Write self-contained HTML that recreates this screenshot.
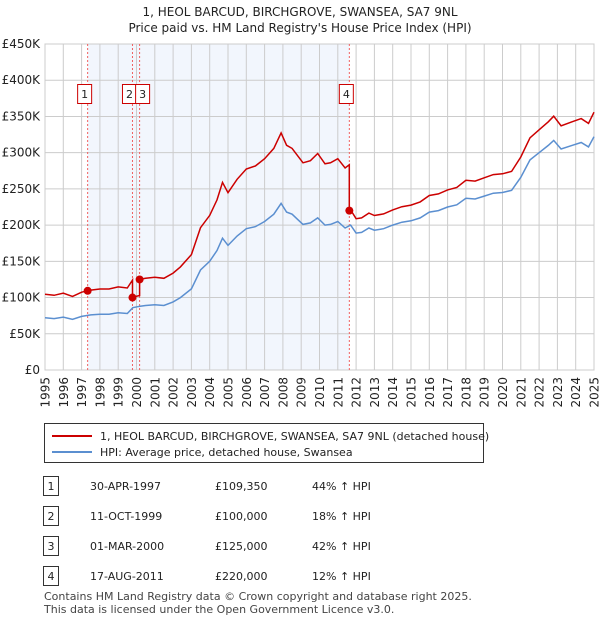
<!DOCTYPE html>
<html><head><meta charset="utf-8"><style>
body{margin:0;background:#fff;font-family:"Liberation Sans","DejaVu Sans",sans-serif;}
svg text{font-family:"DejaVu Sans","Liberation Sans",sans-serif;}
</style></head><body>
<svg id="c" width="600" height="620" viewBox="0 0 600 620" xmlns="http://www.w3.org/2000/svg">
<text x="300" y="16" text-anchor="middle" font-size="12" fill="#222">1, HEOL BARCUD, BIRCHGROVE, SWANSEA, SA7 9NL</text>
<text x="300" y="32" text-anchor="middle" font-size="12" fill="#222">Price paid vs. HM Land Registry's House Price Index (HPI)</text>
<g id="plot"></g>
<rect x="44.5" y="423.5" width="439" height="39" fill="#fff" stroke="#333"/>
<line x1="52" y1="436" x2="92" y2="436" stroke="#cc0000" stroke-width="2"/>
<text x="100" y="440" font-size="11" fill="#222">1, HEOL BARCUD, BIRCHGROVE, SWANSEA, SA7 9NL (detached house)</text>
<line x1="52" y1="452" x2="92" y2="452" stroke="#5b8fd0" stroke-width="2"/>
<text x="100" y="456" font-size="11" fill="#222">HPI: Average price, detached house, Swansea</text>
<g id="tbl"></g>
<text x="44" y="600" font-size="11" fill="#444">Contains HM Land Registry data © Crown copyright and database right 2025.</text>
<text x="44" y="613" font-size="11" fill="#444">This data is licensed under the Open Government Licence v3.0.</text>
</svg>
<script>
const hpiYears=[1995,1995.5,1996,1996.5,1997,1997.5,1998,1998.5,1999,1999.5,1999.8,2000.2,2000.5,2001,2001.5,2002,2002.4,2003,2003.5,2004,2004.4,2004.7,2005,2005.5,2006,2006.5,2007,2007.5,2007.9,2008.2,2008.5,2008.8,2009.1,2009.5,2009.9,2010.3,2010.6,2011,2011.4,2011.7,2012,2012.3,2012.7,2013,2013.5,2014,2014.5,2015,2015.5,2016,2016.5,2017,2017.5,2018,2018.5,2019,2019.5,2020,2020.5,2021,2021.5,2022,2022.5,2022.8,2023.2,2023.8,2024.3,2024.7,2025];
const hpiValues=[72,71,73,70,74,76,77,77,79,78,86,88,89,90,89,94,100,112,138,150,165,182,172,185,195,198,205,215,230,218,215,208,201,203,210,200,201,205,196,200,189,190,196,193,195,200,204,206,210,218,220,225,228,237,236,240,244,245,248,266,290,300,310,317,305,310,314,308,322];
const saleYears=[1997.33,1999.78,2000.17,2011.63];
const salePrices=[109350,100000,125000,220000];
const saleLabels=["1","2","3","4"];
const saleDates=["30-APR-1997","11-OCT-1999","01-MAR-2000","17-AUG-2011"];
const salePriceText=["£109,350","£100,000","£125,000","£220,000"];
const saleHpiText=["44% ↑ HPI","18% ↑ HPI","42% ↑ HPI","12% ↑ HPI"];
const yTicks=[0,50,100,150,200,250,300,350,400,450];
const xTicks=[1995,1996,1997,1998,1999,2000,2001,2002,2003,2004,2005,2006,2007,2008,2009,2010,2011,2012,2013,2014,2015,2016,2017,2018,2019,2020,2021,2022,2023,2024,2025];

const X0=45,X1=594,Y0=370,Y1=44;
const xs=y=>X0+(y-1995)/30*(X1-X0);
const ys=v=>Y0-v/450*(Y0-Y1);
const NS="http://www.w3.org/2000/svg";
const g=document.getElementById('plot');
function mk(t,a,p){const e=document.createElementNS(NS,t);for(const k in a)e.setAttribute(k,a[k]);(p||g).appendChild(e);return e;}
function hpiAt(y){for(let i=1;i<hpiYears.length;i++){if(y<=hpiYears[i]){const t=(y-hpiYears[i-1])/(hpiYears[i]-hpiYears[i-1]);return hpiValues[i-1]+t*(hpiValues[i]-hpiValues[i-1]);}}return hpiValues[hpiValues.length-1];}

let e=mk('rect',{x:X0,y:Y1,width:X1-X0,height:Y0-Y1,fill:'#fff'});

e=mk('rect',{x:xs(saleYears[0]),y:Y1,width:xs(saleYears[3])-xs(saleYears[0]),height:Y0-Y1,fill:'#f2f6fd'});

xTicks.forEach(t=>{
 let l=mk('line',{x1:xs(t),x2:xs(t),y1:Y1,y2:Y0,stroke:'#ccc','stroke-width':1});
 
 const px=xs(t)+4.5;
 let tx=mk('text',{x:px,y:377,'text-anchor':'end','font-size':12,fill:'#222',transform:'rotate(-90 '+px+' 377)'});tx.textContent=t;
 
});
yTicks.forEach(t=>{
 let l=mk('line',{x1:X0,x2:X1,y1:ys(t),y2:ys(t),stroke:'#ccc','stroke-width':1});
 
 let tx=mk('text',{x:40,y:ys(t)+4,'text-anchor':'end','font-size':12,fill:'#222'});tx.textContent=t===0?'£0':'£'+t+'K';
 
});
e=mk('rect',{x:X0,y:Y1,width:X1-X0,height:Y0-Y1,fill:'none',stroke:'#ccc'});


saleYears.forEach((y,i)=>{
 let l=mk('line',{x1:xs(y),x2:xs(y),y1:Y1,y2:Y0,stroke:'#f06060','stroke-width':1,'stroke-dasharray':'2,2'});
 
});
let d=hpiYears.map((y,i)=>(i?'L':'M')+xs(y).toFixed(1)+','+ys(hpiValues[i]).toFixed(1)).join('');
e=mk('path',{d:d,fill:'none',stroke:'#5b8fd0','stroke-width':1.5});

const pts=[];
const segStart=[1995,saleYears[1],saleYears[2],saleYears[3]];
const segEnd=[saleYears[1],saleYears[2],saleYears[3],2025];
for(let s=0;s<4;s++){
 const r=salePrices[s]/1000/hpiAt(saleYears[s]);
 const ys_=[segStart[s],...hpiYears.filter(y=>y>segStart[s]&&y<segEnd[s]),segEnd[s]];
 ys_.forEach((y,k)=>{ if(k===ys_.length-1&&s<3) return; pts.push([y,hpiAt(y)*r]); });
 if(s<3) pts.push([segEnd[s]-0.001,hpiAt(segEnd[s])*r]);
}
d=pts.map((p,i)=>(i?'L':'M')+xs(p[0]).toFixed(1)+','+ys(p[1]).toFixed(1)).join('');
e=mk('path',{d:d,fill:'none',stroke:'#cc0000','stroke-width':1.5});

saleYears.forEach((y,i)=>{
 let c=mk('circle',{cx:xs(y),cy:ys(salePrices[i]/1000),r:4,fill:'#cc0000'});
 
});
const boxX=[xs(saleYears[0])-10,xs(saleYears[1])-10,xs(saleYears[2])-4,xs(saleYears[3])-10];
saleLabels.forEach((s,i)=>{
 let b=mk('rect',{x:boxX[i],y:84.5,width:14,height:19,fill:'#fff',stroke:'#cc0000'});
 
 let t=mk('text',{x:boxX[i]+7,y:98,'text-anchor':'middle','font-size':11,fill:'#222'});t.textContent=s;
 
});
const tb=document.getElementById('tbl');
saleLabels.forEach((s,i)=>{
 const cy=486+i*30;
 let b=mk('rect',{x:43.5,y:cy-9.5,width:15,height:19,fill:'#fff',stroke:'#333'},tb);
 
 let t=mk('text',{x:51,y:cy+4,'text-anchor':'middle','font-size':11,fill:'#222'},tb);t.textContent=s;
 
 t=mk('text',{x:90,y:cy+4,'font-size':11,fill:'#222'},tb);t.textContent=saleDates[i];
 
 t=mk('text',{x:215,y:cy+4,'font-size':11,fill:'#222'},tb);t.textContent=salePriceText[i];
 
 t=mk('text',{x:312,y:cy+4,'font-size':11,fill:'#222'},tb);t.textContent=saleHpiText[i];
 
});
</script>
</body></html>
